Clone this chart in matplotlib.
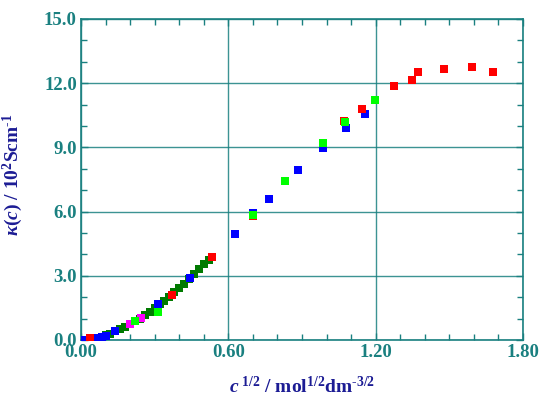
import matplotlib
matplotlib.use("Agg")
import matplotlib.pyplot as plt
from matplotlib.ticker import MultipleLocator

# series (x = c^1/2, y = kappa / 10^2 S cm^-1)
dgreen_x = [0.10, 0.12, 0.14, 0.16, 0.18, 0.20, 0.22, 0.24, 0.26, 0.28, 0.30,
            0.32, 0.34, 0.36, 0.38, 0.40, 0.42, 0.44, 0.46, 0.48, 0.50, 0.52]
dgreen_y = [0.22, 0.30, 0.40, 0.52, 0.63, 0.75, 0.88, 1.00, 1.15, 1.31, 1.48,
            1.66, 1.84, 2.03, 2.22, 2.42, 2.63, 2.85, 3.07, 3.30, 3.53, 3.76]

blue_x = [0.005, 0.015, 0.025, 0.04, 0.055, 0.07, 0.085, 0.10, 0.14, 0.314,
          0.443, 0.627, 0.701, 0.766, 0.884, 0.986, 1.079, 1.158]
blue_y = [0.00, 0.01, 0.02, 0.04, 0.07, 0.10, 0.14, 0.20, 0.40, 1.67,
          2.90, 4.96, 5.92, 6.59, 7.95, 8.99, 9.92, 10.58]

red_x = [0.035, 0.370, 0.535, 0.701, 1.073, 1.143, 1.275, 1.346, 1.374,
         1.480, 1.591, 1.676]
red_y = [0.08, 2.12, 3.90, 5.78, 10.23, 10.80, 11.85, 12.13, 12.51,
         12.68, 12.74, 12.54]

magenta_x = [0.201, 0.246]
magenta_y = [0.77, 1.04]

lime_x = [0.222, 0.314, 0.701, 0.829, 0.986, 1.076, 1.197]
lime_y = [0.88, 1.29, 5.84, 7.44, 9.22, 10.18, 11.23]

xtick_vals = [0, 0.6, 1.2, 1.8]
xtick_text = ["0.00", "0.60", "1.20", "1.80"]
ytick_vals = [0, 3, 6, 9, 12, 15]
ytick_text = ["0.0", "3.0", "6.0", "9.0", "12.0", "15.0"]

TEAL = "#1a8080"
NAVY = "#1c1c94"

plt.rcParams["font.family"] = ["Liberation Serif", "DejaVu Serif"]
plt.rcParams["font.weight"] = "bold"
plt.rcParams["mathtext.fontset"] = "custom"
plt.rcParams["mathtext.rm"] = "Liberation Serif:weight=bold"
plt.rcParams["mathtext.bf"] = "Liberation Serif:weight=bold"
plt.rcParams["mathtext.it"] = "Liberation Serif:style=italic:weight=bold"

fig = plt.figure(figsize=(5.45, 3.99), dpi=100)
ax = fig.add_axes([0.1486, 0.1479, 0.8110, 0.8045])

ms = 36
ax.scatter(dgreen_x, dgreen_y, s=ms, marker="s", c="#007a00", linewidths=0, zorder=3)
ax.scatter(blue_x, blue_y, s=ms, marker="s", c="#0000ff", linewidths=0, zorder=4)
ax.scatter(magenta_x, magenta_y, s=ms, marker="s", c="#ff00ff", linewidths=0, zorder=4)
ax.scatter(red_x, red_y, s=ms, marker="s", c="#ff0000", linewidths=0, zorder=5)
ax.scatter(lime_x, lime_y, s=ms, marker="s", c="#00ff00", linewidths=0, zorder=6)

ax.set_xlim(0, 1.8)
ax.set_ylim(0, 15)
ax.xaxis.set_minor_locator(MultipleLocator(0.1))
ax.yaxis.set_minor_locator(MultipleLocator(1))
ax.set_xticks(xtick_vals)
ax.set_xticklabels(xtick_text, fontweight="bold")
ax.set_yticks(ytick_vals)
ax.set_yticklabels(ytick_text, fontweight="bold")

ax.grid(True, which="major", color=TEAL, linewidth=1.0, alpha=0.85, zorder=1)
ax.set_axisbelow(True)
for sp in ax.spines.values():
    sp.set_color(TEAL)
    sp.set_linewidth(1.2)
ax.tick_params(which="both", direction="in", top=True, right=True, color=TEAL,
               labelcolor=TEAL, labelsize=13.5, width=1.0)
ax.tick_params(which="major", length=5, pad=3)
ax.tick_params(which="minor", length=4)

ax.set_xlabel(r"$\mathit{c}^{\ 1/2}$ / mol$^{1/2}$dm$^{\text{-3/2}}$", color=NAVY,
              fontsize=14, fontweight="bold")
ax.xaxis.set_label_coords(0.5, -0.112)
ax.set_ylabel(r"$\mathit{\kappa}(\mathit{c})$ / 10$^{2}$Scm$^{\text{-1}}$", color=NAVY,
              fontsize=14, fontweight="bold")
ax.yaxis.set_label_coords(-0.127, 0.514)

fig.savefig("out.png", dpi=100)
